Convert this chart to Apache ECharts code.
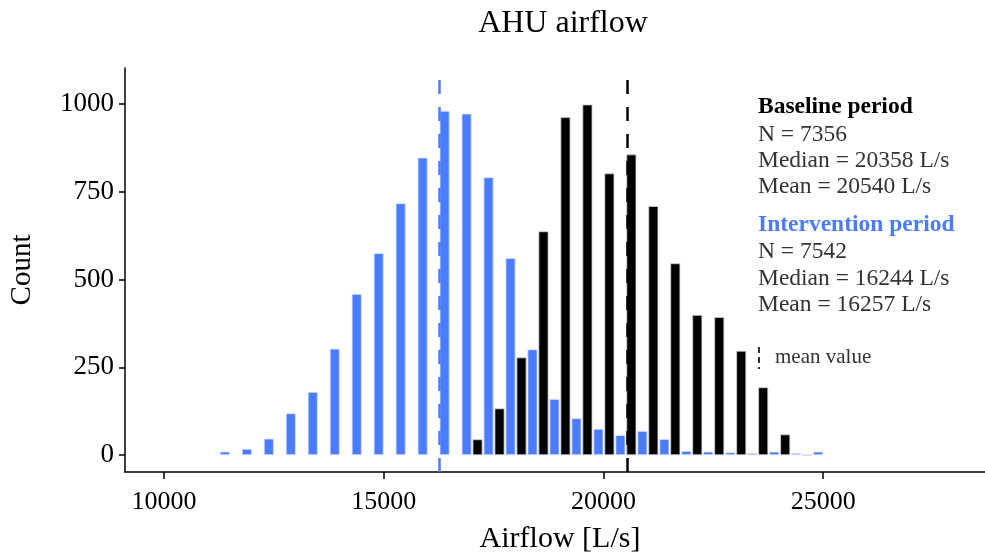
<!DOCTYPE html>
<html>
<head>
<meta charset="utf-8">
<title>AHU airflow</title>
<script src="https://cdn.jsdelivr.net/npm/echarts@6/dist/echarts.min.js"></script>
<style>
  html, body { margin: 0; padding: 0; background: #ffffff; }
  #chart { width: 985px; height: 559px; }
</style>
</head>
<body>
<div id="chart"></div>
<script>
// Histogram bin midpoints (L/s), 500 L/s wide
const binMids = [11261, 11761, 12261, 12761, 13261, 13761, 14261, 14761, 15261, 15761,
                 16261, 16761, 17261, 17761, 18261, 18761, 19261, 19761, 20261, 20761,
                 21261, 21761, 22261, 22761, 23261, 23761, 24261, 24761];

// Counts per bin
const baselineCounts = [null, null, null, null, null, null, null, null, null, null,
                        null, null, 45, 133, 278, 637, 962, 998, 802, 856,
                        709, 546, 399, 393, 297, 193, 59, 0];
const interventionCounts = [10, 18, 47, 119, 180, 303, 459, 575, 717, 847,
                            980, 972, 791, 561, 301, 160, 105, 75, 57, 69,
                            46, 12, 10, 8, 6, 10, 6, 10];

// Summary statistics
const baselineMean = 20540;
const interventionMean = 16257;
const baselineStats = ['N = 7356', 'Median = 20358 L/s', 'Mean = 20540 L/s'];
const interventionStats = ['N = 7542', 'Median = 16244 L/s', 'Mean = 16257 L/s'];

// Axis ticks
const xTicks = [10000, 15000, 20000, 25000];
const yTicks = [0, 250, 500, 750, 1000];

const BLUE = '#4b7bff';
const FONT = '"Liberation Serif", "DejaVu Serif", serif';

const pairs = (counts) => binMids.map((x, i) => [x, counts[i]]);

const chart = echarts.init(document.getElementById('chart'), null, { renderer: 'canvas' });

const statText = (x, y, text, font, fill) => ({
  type: 'text',
  x: x, y: y,
  style: {
    text: text,
    font: font || ('23.5px ' + FONT),
    fill: fill || '#333333',
    verticalAlign: 'middle',
    align: 'left'
  }
});

chart.setOption({
  animation: false,
  backgroundColor: '#ffffff',
  title: {
    text: 'AHU airflow',
    left: 558,
    top: 3,
    textAlign: 'center',
    textStyle: { fontFamily: FONT, fontWeight: 'normal', fontSize: 32, color: '#000' }
  },
  grid: { left: 124, right: 0, top: 68, bottom: 85, containLabel: false },
  xAxis: {
    type: 'value',
    min: 9114,
    max: 28682,
    name: 'Airflow [L/s]',
    nameLocation: 'middle',
    nameGap: 52,
    nameTextStyle: { fontFamily: FONT, fontSize: 30, color: '#000', padding: [0, 0, 0, 10] },
    axisLine: { show: true, onZero: false, lineStyle: { color: '#000', width: 1.5 } },
    axisTick: { show: true, length: 7, customValues: xTicks, lineStyle: { color: '#000', width: 1.5 } },
    axisLabel: {
      customValues: xTicks, margin: 17, fontFamily: FONT, fontSize: 26, color: '#000',
      formatter: (v) => String(v)
    },
    splitLine: { show: false }
  },
  yAxis: {
    type: 'value',
    min: -48,
    max: 1102,
    name: 'Count',
    nameLocation: 'middle',
    nameGap: 88,
    nameRotate: 90,
    nameTextStyle: { fontFamily: FONT, fontSize: 29, color: '#000' },
    axisLine: { show: true, onZero: false, lineStyle: { color: '#000', width: 1.5 } },
    axisTick: { show: true, length: 6, customValues: yTicks, lineStyle: { color: '#000', width: 1.5 } },
    axisLabel: {
      customValues: yTicks, margin: 11, fontFamily: FONT, fontSize: 27, color: '#000',
      formatter: (v) => String(v)
    },
    splitLine: { show: false }
  },
  series: [
    {
      name: 'Baseline period',
      type: 'bar',
      data: pairs(baselineCounts),
      barWidth: 10,
      barGap: '10%',
      itemStyle: { color: '#000000', borderColor: '#d0d0d0', borderWidth: 0.8 }
    },
    {
      name: 'Intervention period',
      type: 'bar',
      data: pairs(interventionCounts),
      barWidth: 10,
      barGap: '10%',
      itemStyle: { color: BLUE, borderColor: '#dde6ff', borderWidth: 0.8 }
    },
    {
      // Mean value reference lines (kept off the bar series so they are not dodged)
      name: 'mean value',
      type: 'line',
      data: [],
      z: 5,
      markLine: {
        silent: true,
        symbol: 'none',
        label: { show: false },
        lineStyle: { width: 2.5, type: [14, 13] },
        data: [
          { xAxis: baselineMean, lineStyle: { color: '#000000', width: 2.5, type: [14, 13] } },
          { xAxis: interventionMean, lineStyle: { color: BLUE, width: 2.5, type: [14, 13] } }
        ]
      }
    }
  ],
  graphic: [
    statText(758, 107, 'Baseline period', 'bold 23.5px ' + FONT, '#000000'),
    statText(758, 135, baselineStats[0]),
    statText(758, 161, baselineStats[1]),
    statText(758, 187, baselineStats[2]),
    statText(758, 225, 'Intervention period', 'bold 23.5px ' + FONT, BLUE),
    statText(758, 252, interventionStats[0]),
    statText(758, 279, interventionStats[1]),
    statText(758, 305, interventionStats[2]),
    {
      type: 'line',
      shape: { x1: 759, y1: 347, x2: 759, y2: 369 },
      style: { stroke: '#333333', lineWidth: 2, lineDash: [6, 4] }
    },
    statText(775, 357, 'mean value', '21px ' + FONT, '#333333')
  ]
});
</script>
</body>
</html>
